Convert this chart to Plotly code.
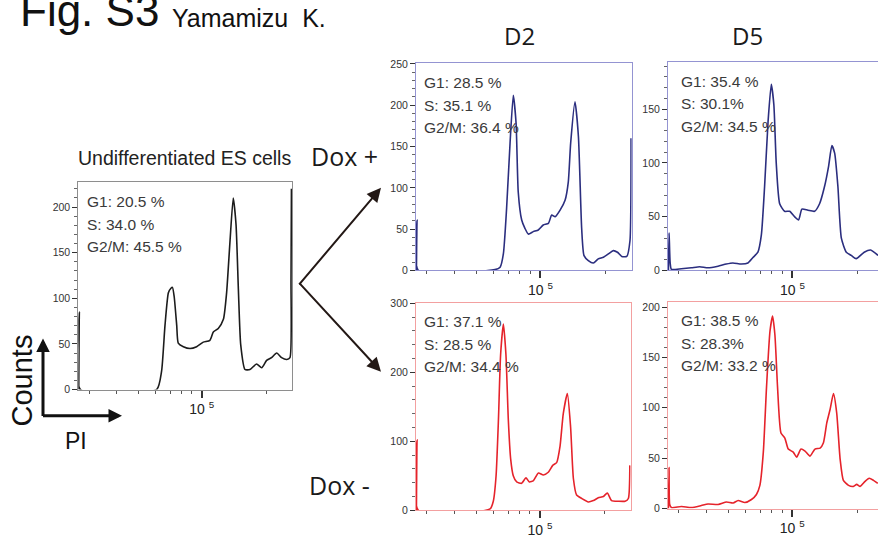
import plotly.graph_objects as go

# ---------------- data ----------------
# x values are positions along each PI axis in percent of the axis width
es_x = [0.2, 0.5, 1.0, 36.6, 38.9, 40.5, 42.1, 43.3, 44.0, 44.8, 46.0, 46.7, 49.1, 52.2, 55.3, 58.4,
        61.5, 63.1, 65.4, 67.8, 69.3, 70.9, 72.4, 73.7, 74.8, 75.9, 77.9, 80.2, 83.3, 85.7, 88.0,
        90.3, 92.7, 95.0, 97.4, 98.9, 99.4, 99.6]
es_y = [0, 85, 0, 0, 20, 70, 106, 111, 112, 102, 70, 51, 47, 45, 47, 52,
        54, 63, 67, 77, 106, 163, 210, 181, 110, 49, 22, 22, 28, 24, 32,
        35, 40, 35, 33, 35, 120, 220]

d2p_x = [0.2, 0.5, 1.1, 36.6, 39.0, 40.5, 42.0, 43.6, 45.1, 46.4, 47.4, 49.0, 50.5, 52.1, 54.4, 56.7,
         59.0, 61.4, 62.9, 64.5, 66.8, 69.1, 70.6, 71.7, 73.7, 75.3, 76.8, 77.9, 79.9, 82.2, 84.5,
         86.9, 89.2, 91.5, 93.4, 95.4, 97.7, 99.2, 99.7]
d2p_y = [0, 61, 0, 1, 4, 20, 75, 154, 212, 178, 95, 61, 51, 44, 47, 49,
         55, 57, 67, 65, 73, 85, 107, 154, 204, 162, 51, 18, 12, 9, 14,
         16, 20, 24, 22, 17, 17, 36, 160]

d5p_x = [0.2, 0.5, 1.0, 1.6, 6.2, 10.8, 14.7, 18.5, 23.2, 27.0, 30.1, 34.0, 37.1, 39.4, 41.7, 43.3,
         44.8, 46.4, 47.9, 49.1, 50.2, 51.8, 54.1, 56.4, 58.7, 60.6, 62.1, 64.9, 68.0, 70.3, 72.6,
         74.5, 76.0, 77.3, 78.8, 80.4, 82.7, 85.0, 87.3, 91.0, 94.0, 97.4]
d5p_y = [0, 35, 7, 1, 1.6, 2.5, 3.5, 2.5, 4, 6, 7, 6, 7, 12, 17, 33,
         78, 138, 173, 154, 100, 62, 55, 55, 50, 47, 57, 56, 55, 62, 78,
         97, 116, 109, 78, 30, 17, 14, 11, 17, 19, 14]

d2m_x = [0.2, 0.5, 1.1, 34.5, 36.0, 37.3, 38.4, 39.4, 40.7, 41.9, 43.0, 44.1, 45.3, 46.9, 49.2, 51.2,
         52.8, 54.7, 57.0, 59.3, 61.6, 63.7, 65.5, 67.1, 68.6, 70.5, 72.0, 73.3, 74.8, 77.2, 80.3,
         82.6, 84.9, 87.3, 89.1, 91.1, 94.3, 97.4, 98.9, 99.6]
d2m_y = [0, 102, 0, 2, 13, 50, 131, 225, 270, 225, 131, 74, 50, 41, 39, 47,
         41, 43, 54, 51, 55, 65, 69, 93, 140, 169, 121, 46, 22, 17, 12,
         14, 18, 20, 25, 14, 13, 13, 17, 65]

d5m_x = [0.2, 0.5, 0.8, 1.6, 6.2, 10.9, 15.5, 18.6, 23.3, 27.2, 30.3, 32.6, 35.7, 38.8, 41.1, 42.7,
         44.3, 45.8, 47.4, 48.6, 49.7, 50.9, 52.5, 54.3, 55.9, 58.2, 59.8, 61.8, 63.7, 66.0, 68.3,
         70.7, 72.2, 73.8, 75.3, 76.9, 78.4, 80.0, 81.5, 83.9, 86.2, 87.7, 89.3, 91.6, 93.5, 95.5, 97.5]
d5m_y = [0, 41, 4, 1, 2, 1, 3, 4.5, 4, 6.5, 5.5, 8, 6, 9, 14, 23,
         56, 121, 176, 191, 172, 121, 75, 70, 59, 56, 51, 59, 57, 52, 59,
         60, 65, 85, 98, 114, 95, 49, 28, 23, 22, 24, 22, 27, 30, 28, 25]

es_stats = ["G1: 20.5 %", "S: 34.0 %", "G2/M: 45.5 %"]
d2p_stats = ["G1: 28.5 %", "S: 35.1 %", "G2/M: 36.4 %"]
d5p_stats = ["G1: 35.4 %", "S: 30.1%", "G2/M: 34.5 %"]
d2m_stats = ["G1: 37.1 %", "S: 28.5 %", "G2/M: 34.4 %"]
d5m_stats = ["G1: 38.5 %", "S: 28.3%", "G2/M: 33.2 %"]

x_major_pos = [57.7]
x_major_label = ["10 <sup>5</sup>"]
x_minor_pos = [5, 18, 28, 36, 43, 48, 53, 88]

# ---------------- layout helpers ----------------
W, H = 878, 539
def px_x(p):
    return p / W
def px_y(p):
    return 1 - p / H

SANS = "Liberation Sans, Arial"
HUMAN = "Open Sans, Lato, sans-serif"
ARIAL = "Liberation Sans, Arial"

panels = [
    dict(x=es_x, y=es_y, color="#1c1c1c", border="#8e8e8e", xd=(78.3, 292.3), yd=(180, 392.3),
         xmax=100, ymax=227.5, dt=50, mdt=10, stats=es_stats, mirror_y=True),
    dict(x=d2p_x, y=d2p_y, color="#2b2e7f", border="#9494d2", xd=(416, 631.7), yd=(58.3, 270.5),
         xmax=100, ymax=251, dt=50, mdt=10, stats=d2p_stats, mirror_y=True),
    dict(x=d5p_x, y=d5p_y, color="#2b2e7f", border="#9494d2", xd=(668, 878), yd=(57, 270.5),
         xmax=97.4, ymax=194, dt=50, mdt=10, stats=d5p_stats, mirror_y=False),
    dict(x=d2m_x, y=d2m_y, color="#e5232b", border="#f3a0a0", xd=(416, 630.7), yd=(304, 515.7),
         xmax=100, ymax=300, dt=100, mdt=20, stats=d2m_stats, mirror_y=True),
    dict(x=d5m_x, y=d5m_y, color="#e5232b", border="#f3a0a0", xd=(668, 878), yd=(302.7, 514),
         xmax=97.6, ymax=205, dt=50, mdt=10, stats=d5m_stats, mirror_y=False),
]

fig = go.Figure()
layout = dict(width=W, height=H, margin=dict(l=0, r=0, t=0, b=0),
              paper_bgcolor="white", plot_bgcolor="white", showlegend=False)
annotations = []

for i, p in enumerate(panels):
    n = "" if i == 0 else str(i + 1)
    fig.add_trace(go.Scatter(x=p["x"], y=p["y"], mode="lines",
                             line=dict(color=p["color"], width=1.6, shape="spline", smoothing=0.55),
                             xaxis="x" + n, yaxis="y" + n, hoverinfo="skip"))
    layout["xaxis" + n] = dict(
        domain=[px_x(p["xd"][0]), px_x(p["xd"][1])], anchor="y" + n,
        range=[0, p["xmax"]], showgrid=False, zeroline=False,
        showline=True, linecolor=p["border"], linewidth=1, mirror=True,
        tickmode="array", tickvals=x_major_pos, ticktext=x_major_label,
        ticks="outside", ticklen=7, tickwidth=1.5, tickcolor="#333",
        tickfont=dict(family=ARIAL, size=14, color="#222"),
        minor=dict(tickmode="array", tickvals=x_minor_pos, ticks="outside",
                   ticklen=3, tickwidth=1, tickcolor="#555"),
        fixedrange=True)
    layout["yaxis" + n] = dict(
        domain=[px_y(p["yd"][1]), px_y(p["yd"][0])], anchor="x" + n,
        range=[0, p["ymax"]], showgrid=False, zeroline=False,
        showline=True, linecolor=p["border"], linewidth=1, mirror=p["mirror_y"],
        tickmode="linear", tick0=0, dtick=p["dt"],
        ticks="outside", ticklen=5, tickwidth=1, tickcolor="#333",
        tickfont=dict(family=SANS, size=10.5, color="#333"),
        minor=dict(tickmode="linear", tick0=0, dtick=p["mdt"], ticks="outside",
                   ticklen=3, tickwidth=1, tickcolor="#666"),
        fixedrange=True)
    tx = p["xd"][0] + (7 if i == 0 else 6 if i in (1, 3) else 11)
    ty = p["yd"][0] + (20 if i == 0 else 20 if i in (1, 2) else 19)
    for k, s in enumerate(p["stats"]):
        annotations.append(dict(text=s, x=px_x(tx), y=px_y(ty + 23 * k), xref="paper", yref="paper",
                                xanchor="left", yanchor="middle", showarrow=False,
                                font=dict(family=SANS, size=15.5, color="#3a3a3a")))

def label(text, x, y, size, family=HUMAN, color="#1a1a1a", angle=0, xanchor="center"):
    annotations.append(dict(text=text, x=px_x(x), y=px_y(y), xref="paper", yref="paper",
                            xanchor=xanchor, yanchor="middle", showarrow=False, textangle=angle,
                            font=dict(family=family, size=size, color=color)))

label("Fig. S3", 18, 5, 44, family=ARIAL, color="#111", xanchor="left")
label("Yamamizu  K.", 170, 12, 25, family=ARIAL, color="#111", xanchor="left")
label("Undifferentiated ES cells", 184, 155, 19.5, family=SANS, color="#222")
label("Dox +", 344, 153, 25)
label("Dox -", 339, 490, 25)
label("D2", 519, 30, 24)
label("D5", 747, 30, 24)
label("Counts", 22, 383, 29, family=ARIAL, color="#111", angle=-90)
label("PI", 76, 445, 23, family=ARIAL, color="#111")

def arrow(x0, y0, x1, y1, width, head=2, size=1.0, color="#111"):
    annotations.append(dict(x=px_x(x1), y=px_y(y1), xref="paper", yref="paper",
                            ax=x0 - x1, ay=y0 - y1, axref="pixel", ayref="pixel",
                            text="", showarrow=True, arrowhead=head, arrowsize=size,
                            arrowwidth=width, arrowcolor=color, standoff=0, startstandoff=0))

arrow(43, 419, 43, 340, 3, head=2, size=0.9)
arrow(41.5, 419, 122, 419, 3, head=2, size=0.9)
arrow(298, 284, 381, 186, 2, head=2, size=1.4, color="#231815")
arrow(298, 284, 381, 374, 2, head=2, size=1.4, color="#231815")

layout["annotations"] = annotations
fig.update_layout(**layout)
fig.write_html("out.html", config={"displayModeBar": False},
               post_script="document.body.style.margin='0px';document.body.style.overflow='hidden';")
